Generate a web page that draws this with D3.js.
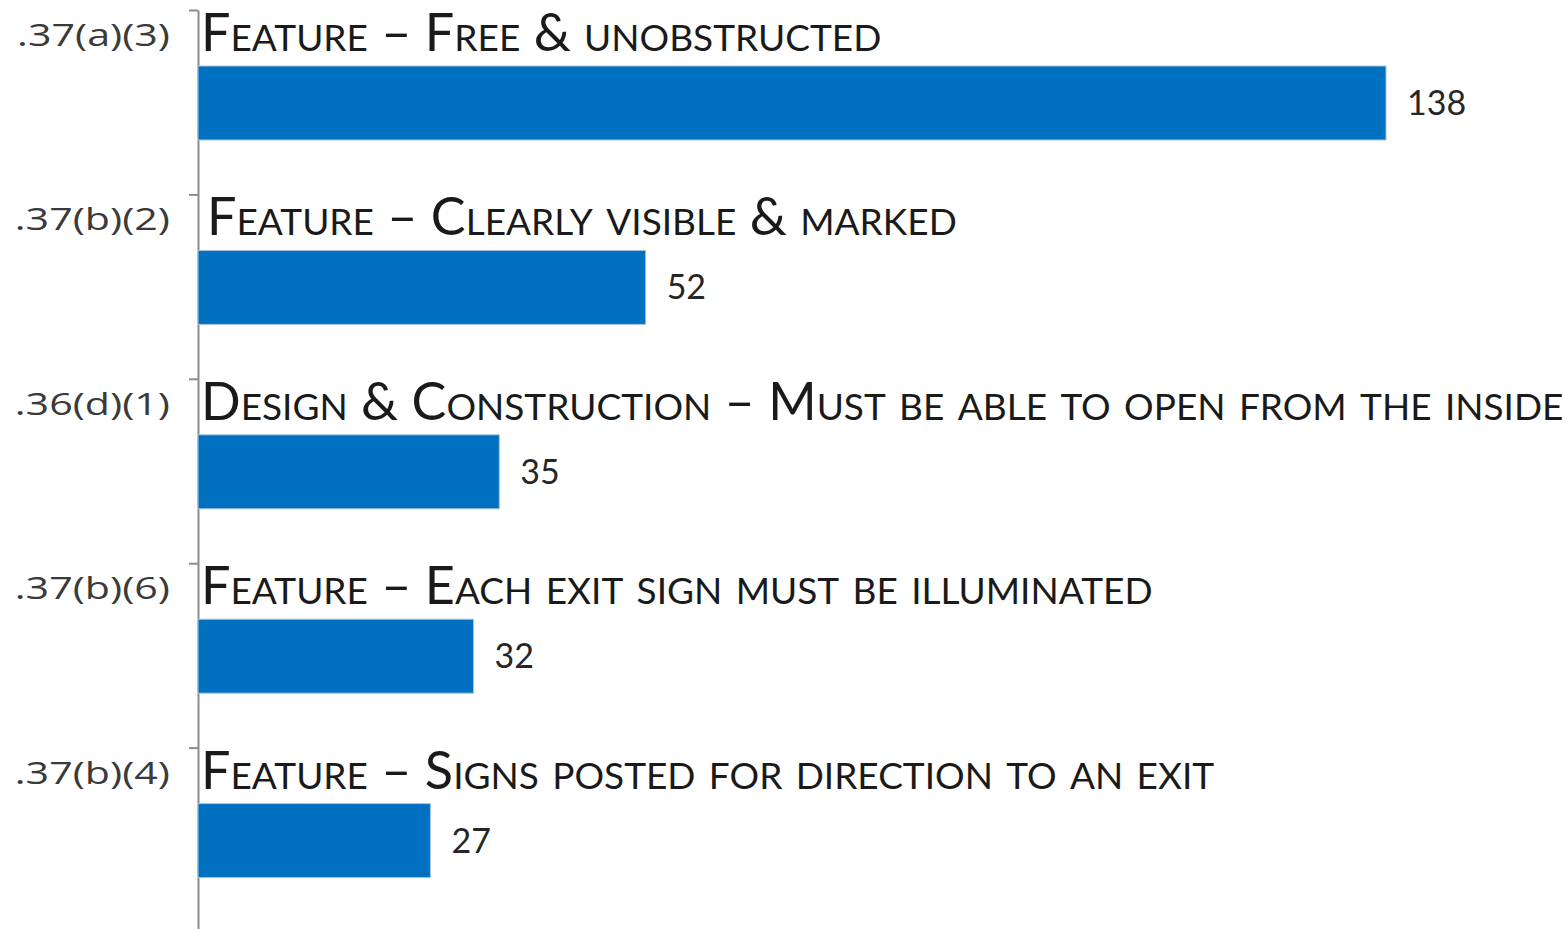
<!DOCTYPE html>
<html>
<head>
<meta charset="utf-8">
<title>Exit route citations</title>
<script src="https://cdn.jsdelivr.net/npm/d3@7"></script>
<style>
body { margin: 0; background: #fff; }
svg text { font-family: Lato, "Open Sans", sans-serif; }
</style>
</head>
<body>
<script>
// data
var codes = [".37(a)(3)", ".37(b)(2)", ".36(d)(1)", ".37(b)(6)", ".37(b)(4)"];
var titles = [
    "Feature \u2013 Free & unobstructed",
    "Feature \u2013 Clearly visible & marked",
    "Design & Construction \u2013 Must be able to open from the inside",
    "Feature \u2013 Each exit sign must be illuminated",
    "Feature \u2013 Signs posted for direction to an exit"
];
var counts = [138, 52, 35, 32, 27];

var w = 1563, h = 929;
var axisX = 198;

var svg = d3.select("body").append("svg")
    .attr("width", w)
    .attr("height", h);

var x = d3.scaleLinear()
    .domain([0, 138])
    .range([axisX, 1386]);

var y = d3.scaleBand()
    .domain(codes)
    .range([10, 932])
    .padding(0);

// tick positions at band boundaries
var yTick = d3.scaleLinear()
    .domain([0, codes.length])
    .range([10, 932]);

svg.append("g")
    .attr("transform", "translate(" + axisX + ",0)")
    .call(d3.axisLeft(yTick)
        .tickValues(d3.range(codes.length))
        .tickFormat("")
        .tickSize(9)
        .tickSizeOuter(0))
    .call(function(g) {
        g.selectAll("path, line").attr("stroke", "#8c8c8c").attr("stroke-width", 2);
    });

svg.selectAll("rect.bar")
    .data(counts)
    .enter()
    .append("rect")
    .attr("class", "bar")
    .attr("x", axisX)
    .attr("y", function(d, i) { return y(codes[i]) + 56; })
    .attr("width", function(d) { return x(d) - axisX; })
    .attr("height", 74)
    .attr("fill", "#0070c0")
    .attr("stroke", "#a9c4dc")
    .attr("stroke-width", 1);

svg.selectAll("text.val")
    .data(counts)
    .enter()
    .append("text")
    .attr("class", "val")
    .text(function(d) { return d; })
    .attr("x", function(d) { return x(d) + 21; })
    .attr("y", function(d, i) { return y(codes[i]) + 56 + 37 + 12; })
    .attr("font-size", "34px")
    .attr("fill", "#262626");

var ct = svg.selectAll("text.code")
    .data(codes)
    .enter()
    .append("text")
    .attr("class", "code")
    .text(function(d) { return d; })
    .attr("text-anchor", "end")
    .attr("font-size", "31px")
    .style("font-family", "'Open Sans', sans-serif")
    .attr("fill", "#3a3a3a");

// the code labels are drawn wide in the chart (about 153px)
var cw = ct.nodes()[0].getComputedTextLength();
var sx = 153 / cw;
ct.attr("transform", function(d) {
    return "translate(170," + (y(d) + 36) + ") scale(" + sx + ",1)";
});

var tt = svg.selectAll("text.title")
    .data(titles)
    .enter()
    .append("text")
    .attr("class", "title")
    .text(function(d) { return d; })
    .attr("x", function(d, i) { return i === 1 ? 207 : 201; })
    .attr("y", function(d, i) { return y(codes[i]) + 41; })
    .attr("font-size", "48px")
    .style("font-variant", "small-caps")
    .attr("fill", "#1a1a1a");

// scale title font so the longest one fits the width seen in the chart
var longest = tt.nodes()[2].getComputedTextLength();
tt.attr("font-size", (48 * 1361 / longest) + "px");
</script>
</body>
</html>
